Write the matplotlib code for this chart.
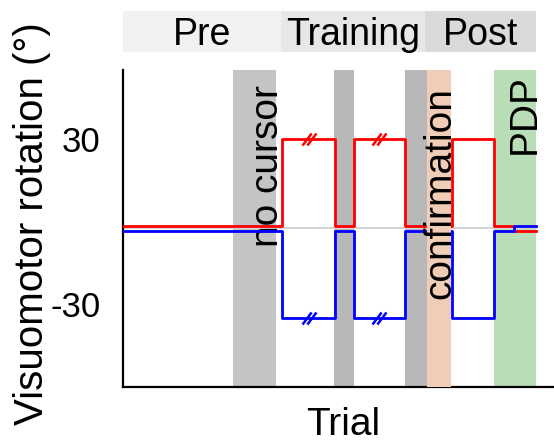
import matplotlib.pyplot as plt
from matplotlib.path import Path
from matplotlib.transforms import ScaledTranslation

plt.rcParams['font.family'] = ['Liberation Sans', 'DejaVu Sans']

# Perturbation schedule (trial, rotation in deg), drawn as steps
step_x = [0, 74, 98.4, 107, 131, 152.6, 172.2, 181.5, 191.6]
red_rot = [0.8, 30, 0.8, 30, 0.8, 30, 0.8, -0.8, -0.8]
blue_rot = [-0.8, -30, -0.8, -30, -0.8, -30, -0.8, 0.8, 0.8]

# blocks with shading
block_start = [51, 98, 131, 141, 172.2]
block_end = [71, 107, 141, 152, 191.6]
block_color = ['#c4c4c4', '#b8b8b8', '#b8b8b8', '#f0cdb6', '#b9ddb6']

# block labels
block_names = ['no cursor', 'confirmation', 'PDP']
name_x = [72, 151.7, 191.2]
name_y = [48.1, 47.4, 51.5]

# phases on top
phases = ['Pre', 'Training', 'Post']
phase_start = [0, 73.3, 140]
phase_end = [73.3, 140, 191.6]
phase_color = ['#f2f2f2', '#e7e7e7', '#dadada']

fig = plt.figure(figsize=(5.54, 4.43), dpi=100)
ax = fig.add_axes([0.222, 0.1264, 0.778, 0.7156])
hx = fig.add_axes([0.222, 0.8826, 0.778, 0.0926], sharex=ax)

# shaded blocks (confirmation block sits above the lines)
for s, e, c in zip(block_start, block_end, block_color):
    z = 4 if c == '#f0cdb6' else 1
    ax.axvspan(s, e, color=c, lw=0, zorder=z)

ax.plot([step_x[0], step_x[-1]], [0, 0], color='#d4d4d4', lw=1.5, zorder=2)
ax.plot(step_x, red_rot, drawstyle='steps-post', color='red', lw=2, zorder=3)
ax.plot(step_x, blue_rot, drawstyle='steps-post', color='blue', lw=2, zorder=3)

# "//" break marks in the middle of the first two training blocks
brk = Path([(-1.15, -1), (0.35, 1), (-0.35, -1), (1.15, 1)],
           [Path.MOVETO, Path.LINETO, Path.MOVETO, Path.LINETO])
mids = [(step_x[1] + step_x[2]) / 2, (step_x[3] + step_x[4]) / 2]
ax.plot(mids, [red_rot[1], red_rot[3]], ls='none', marker=brk, ms=10,
        mew=1.8, mec='red', zorder=3)
ax.plot(mids, [blue_rot[1], blue_rot[3]], ls='none', marker=brk, ms=10,
        mew=1.8, mec='blue', zorder=3)

for name, x, y in zip(block_names, name_x, name_y):
    z = 2.5 if name == 'no cursor' else 5
    ax.text(x, y, name, rotation=90, rotation_mode='anchor', ha='right',
            va='baseline', fontsize=28, zorder=z)

ax.set_xlim(0, 200)
ax.set_ylim(-53, 53)
ax.set_yticks([-30, 30])
ax.set_yticklabels(['-30', '30'])
ax.set_xticks([])
ax.tick_params(axis='y', length=0, pad=16, labelsize=25)
# the -30 label sits a bit higher than its line in the original
lbl = ax.get_yticklabels()[0]
lbl.set_transform(lbl.get_transform() + ScaledTranslation(0, 0.14, fig.dpi_scale_trans))
for side in ['top', 'right']:
    ax.spines[side].set_visible(False)
for side in ['left', 'bottom']:
    ax.spines[side].set_linewidth(1.6)

ax.set_xlabel('Trial', fontsize=28)
ax.xaxis.set_label_coords(0.51, -0.151)
ax.xaxis.label.set_va('baseline')
ax.set_ylabel('Visuomotor rotation (°)', fontsize=29)
ax.yaxis.set_label_coords(-0.1856, 0.514)
ax.yaxis.label.set_va('baseline')

# phase header
for name, s, e, c in zip(phases, phase_start, phase_end, phase_color):
    hx.axvspan(s, e, color=c, lw=0)
    hx.text((s + e) / 2, 0.17, name, ha='center', va='baseline', fontsize=27)
hx.set_ylim(0, 1)
hx.axis('off')

fig.savefig('out.png', dpi=100)
